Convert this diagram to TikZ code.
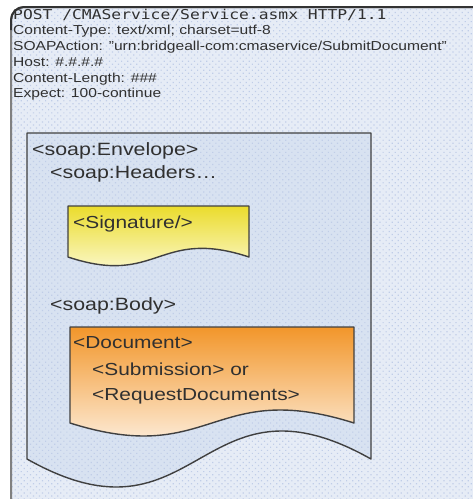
\documentclass[tikz,border=0pt]{standalone}
\usepackage{fontspec}
\setmainfont{Liberation Sans}[FakeStretch=1.2]
\newfontfamily\httpfont{DejaVu Sans Mono}[FakeStretch=1.2]
\usetikzlibrary{patterns.meta}
\definecolor{paneblue}{HTML}{E6ECF6}
\definecolor{envblue}{HTML}{D8E2F1}
\definecolor{dotblue}{HTML}{C0CDE8}
\definecolor{txtgray}{HTML}{303030}
\definecolor{sigtop}{HTML}{EBDC2C}
\definecolor{sigbot}{HTML}{FFFFF4}
\definecolor{doctop}{HTML}{F2962A}
\definecolor{docbot}{HTML}{FFFFFF}

\begin{document}
\begin{tikzpicture}[x=1pt,y=-1pt,
  hdr/.style={anchor=base west,inner sep=0pt,text=txtgray,font=\fontsize{13}{15}\selectfont},
  tag/.style={anchor=base west,inner sep=0pt,text=txtgray,font=\fontsize{17.8}{20}\selectfont},
  subtag/.style={anchor=base west,inner sep=0pt,text=txtgray,font=\fontsize{17.4}{20}\selectfont},
  dots/.style={pattern={Dots[radius=0.85pt,distance=4.3pt,angle=45]},pattern color=dotblue},
  docline/.style={draw=black!75,line width=1.4pt,line join=round}]
\useasboundingbox (0,0) rectangle (473,499);
\fill[white] (0,0) rectangle (473,499);
% outer panel
\fill[paneblue,rounded corners=13] (11,7) rectangle (490,520);
\fill[dots,rounded corners=13] (11,7) rectangle (490,520);
\draw[black!50,line width=2pt,rounded corners=13] (11,7) rectangle (490,520);
\draw[black!80,line width=2pt,rounded corners=13] (11,30) -- (11,7) -- (490,7);
\node[anchor=base west,inner sep=0pt,text=txtgray,font=\httpfont\fontsize{13.6}{15}\selectfont] (post) at (13,19.5) {POST /CMAService/Service.asmx HTTP/1.1};
\node[hdr] (ctype) at (13,34) {Content-Type: text/xml; charset=utf-8};
\node[hdr] (action) at (13,50) {SOAPAction: "urn:bridgeall-com:cmaservice/SubmitDocument"};
\node[hdr] (host) at (13,66) {Host: \#.\#.\#.\#};
\node[hdr] (length) at (13,82) {Content-Length: \#\#\#};
\node[hdr] (expect) at (13,97.5) {Expect: 100-continue};
% soap envelope
\fill[envblue] (27,133) -- (371,133) -- (371,459) .. controls (199,362) and (199,556) .. (27,459) -- cycle;
\fill[dots] (27,133) -- (371,133) -- (371,459) .. controls (199,362) and (199,556) .. (27,459) -- cycle;
\draw[docline] (27,133) -- (371,133) -- (371,459) .. controls (199,362) and (199,556) .. (27,459) -- cycle;
\node[tag] (envelope) at (32,155) {<soap:Envelope>};
\node[tag] (headers) at (50,178) {<soap:Headers…};
% signature
\shade[top color=sigtop,bottom color=sigbot] (68,206) -- (249,206) -- (249,257) .. controls (158,227) and (158,287) .. (68,257) -- cycle;
\draw[docline] (68,206) -- (249,206) -- (249,257) .. controls (158,227) and (158,287) .. (68,257) -- cycle;
\node[subtag] (signature) at (73,228) {<Signature/>};
\node[tag] (body) at (50,310) {<soap:Body>};
% document
\shade[top color=doctop,bottom color=docbot] (70,327) -- (354,327) -- (354,423) .. controls (212,378) and (212,468) .. (70,423) -- cycle;
\draw[docline] (70,327) -- (354,327) -- (354,423) .. controls (212,378) and (212,468) .. (70,423) -- cycle;
\node[subtag] (document) at (73,348) {<Document>};
\node[subtag] (submission) at (92,375) {<Submission> or};
\node[subtag] (request) at (92,400) {<RequestDocuments>};
\end{tikzpicture}
\end{document}
